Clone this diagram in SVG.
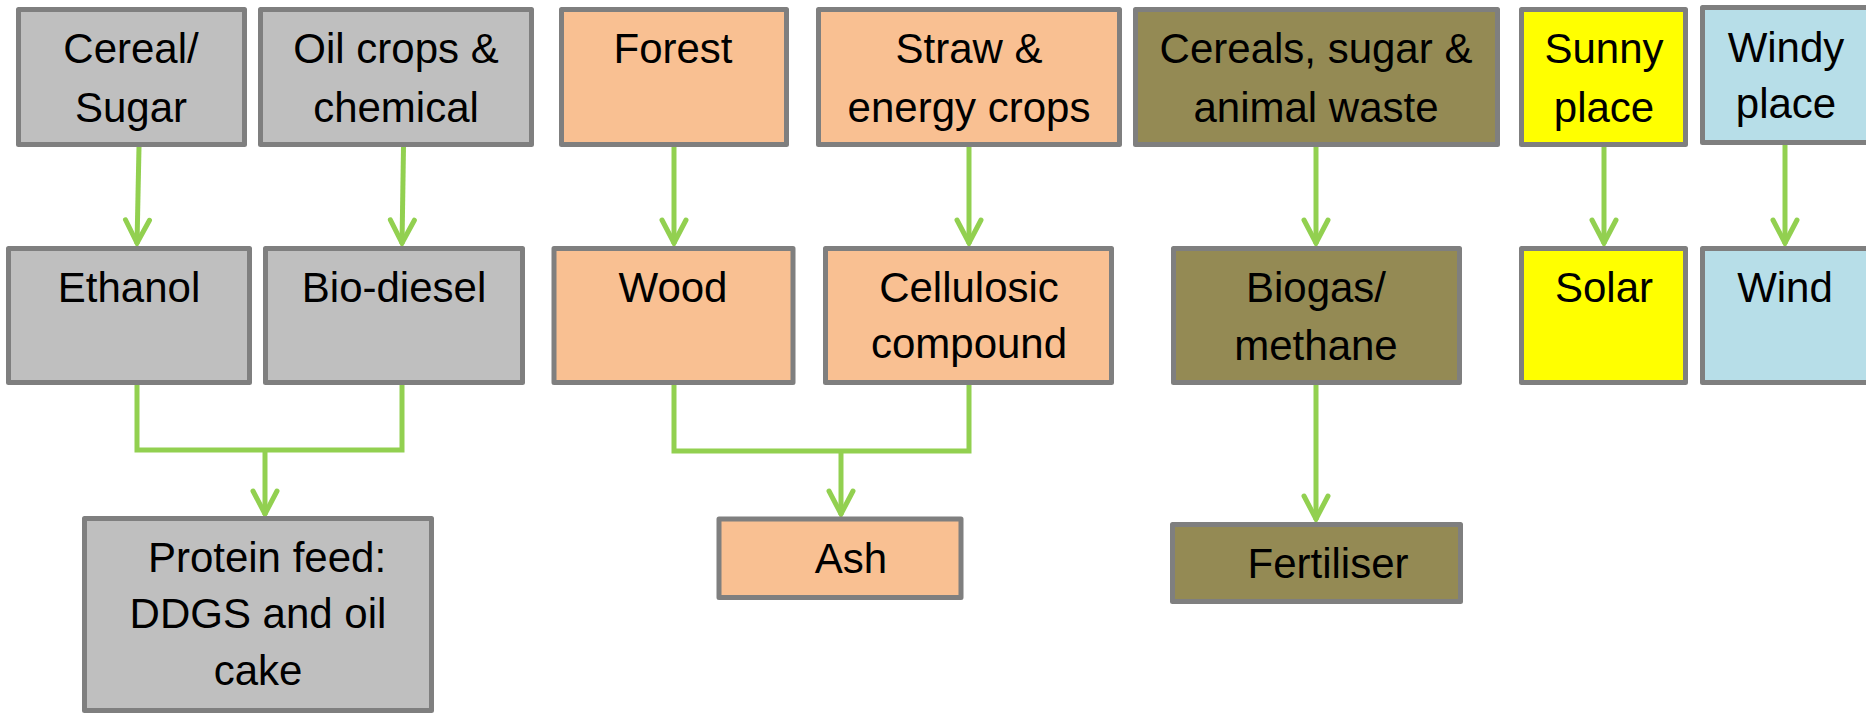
<svg xmlns="http://www.w3.org/2000/svg" width="1866" height="713" viewBox="0 0 1866 713">
<style>
.box{stroke:#7F7F7F;stroke-width:5;stroke-linejoin:round}
.gray{fill:#BFBFBF}
.peach{fill:#F9C092}
.olive{fill:#948A54}
.yellow{fill:#FFFF00}
.blue{fill:#B7DEE8}
text{font-family:"Liberation Sans",Arial,sans-serif;font-size:42px;fill:#000;text-anchor:middle}
.conn{fill:none;stroke:#92D050;stroke-width:5;stroke-linejoin:miter}
</style>
<defs>
<marker id="arr" viewBox="-30 -16 34 32" refX="0" refY="0" markerWidth="34" markerHeight="32" markerUnits="userSpaceOnUse" orient="auto">
<path d="M-24,-12 L-1,0 L-24,12" fill="none" stroke="#92D050" stroke-width="5" stroke-linecap="round" stroke-linejoin="miter"/>
</marker>
</defs>
<g id="connectors">
<path class="conn" d="M139,147 L137,244" marker-end="url(#arr)"/>
<path class="conn" d="M403.5,147 L402,244" marker-end="url(#arr)"/>
<path class="conn" d="M674,147 V244" marker-end="url(#arr)"/>
<path class="conn" d="M969,147 V244" marker-end="url(#arr)"/>
<path class="conn" d="M1316,147 V244" marker-end="url(#arr)"/>
<path class="conn" d="M1604,147 V244" marker-end="url(#arr)"/>
<path class="conn" d="M1785,145 V244" marker-end="url(#arr)"/>
<path class="conn" d="M137,385 V450 H402 V385"/>
<path class="conn" d="M265,450 V515" marker-end="url(#arr)"/>
<path class="conn" d="M674,385 V451 H969 V385"/>
<path class="conn" d="M841,451 V515" marker-end="url(#arr)"/>
<path class="conn" d="M1316,385 V520" marker-end="url(#arr)"/>
</g>
<g id="cereal-sugar"><rect class="box gray" x="18.5" y="9.5" width="226" height="135"/><text x="131" y="63">Cereal/</text><text x="131" y="122">Sugar</text></g>
<g id="oil-crops"><rect class="box gray" x="260.5" y="9.5" width="271" height="135"/><text x="396" y="63">Oil crops &amp;</text><text x="396" y="122">chemical</text></g>
<g id="ethanol"><rect class="box gray" x="8.5" y="248.5" width="241" height="134"/><text x="129" y="302">Ethanol</text></g>
<g id="bio-diesel"><rect class="box gray" x="265.5" y="248.5" width="257" height="134"/><text x="394" y="302">Bio-diesel</text></g>
<g id="protein-feed"><rect class="box gray" x="84.5" y="518.5" width="347" height="192"/><text x="267" y="572">Protein feed:</text><text x="258" y="628">DDGS and oil</text><text x="258" y="685">cake</text></g>
<g id="forest"><rect class="box peach" x="561.5" y="9.5" width="225" height="135"/><text x="673" y="63">Forest</text></g>
<g id="straw"><rect class="box peach" x="818.5" y="9.5" width="301" height="135"/><text x="969" y="63">Straw &amp;</text><text x="969" y="122">energy crops</text></g>
<g id="wood"><rect class="box peach" x="554" y="248.5" width="239" height="134"/><text x="673" y="302">Wood</text></g>
<g id="cellulosic"><rect class="box peach" x="825.5" y="248.5" width="286" height="134"/><text x="969" y="302">Cellulosic</text><text x="969" y="358">compound</text></g>
<g id="ash"><rect class="box peach" x="719" y="519" width="242" height="78.5"/><text x="851" y="573">Ash</text></g>
<g id="cereals-waste"><rect class="box olive" x="1135.5" y="9.5" width="362" height="135"/><text x="1316" y="63">Cereals, sugar &amp;</text><text x="1316" y="122">animal waste</text></g>
<g id="biogas"><rect class="box olive" x="1173.5" y="248.5" width="286" height="134"/><text x="1316" y="302">Biogas/</text><text x="1316" y="360">methane</text></g>
<g id="fertiliser"><rect class="box olive" x="1172.5" y="524.5" width="288" height="77"/><text x="1328" y="578">Fertiliser</text></g>
<g id="sunny"><rect class="box yellow" x="1521.5" y="9.5" width="164" height="135"/><text x="1604" y="63">Sunny</text><text x="1604" y="122">place</text></g>
<g id="solar"><rect class="box yellow" x="1521.5" y="248.5" width="164" height="134"/><text x="1604" y="302">Solar</text></g>
<g id="windy"><rect class="box blue" x="1702.5" y="7.5" width="180" height="135"/><text x="1786" y="62">Windy</text><text x="1786" y="118">place</text></g>
<g id="wind"><rect class="box blue" x="1702.5" y="248.5" width="180" height="134"/><text x="1785" y="302">Wind</text></g>
</svg>
